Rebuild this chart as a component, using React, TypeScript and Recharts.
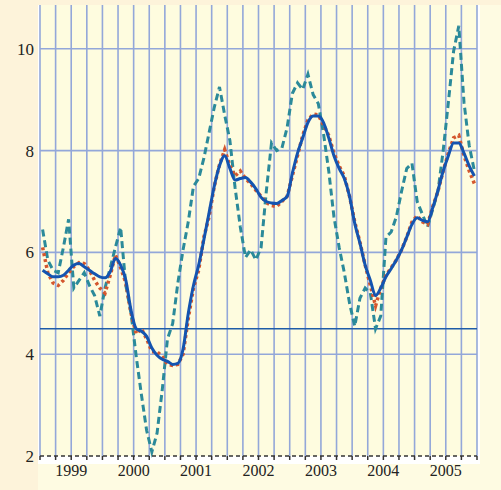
import { LineChart, Line, XAxis, YAxis, CartesianGrid, ReferenceLine } from 'recharts';

// monthly values, Jan 1999 .. Dec 2005
const trend = [
  5.65, 5.58, 5.52, 5.52, 5.55, 5.65, 5.75, 5.78, 5.72, 5.65, 5.58, 5.52,
  5.5, 5.62, 5.88, 5.75, 5.45, 4.86, 4.5, 4.45, 4.35, 4.12, 3.98, 3.9,
  3.86, 3.8, 3.82, 4.1, 4.8, 5.35, 5.75, 6.25, 6.78, 7.3, 7.7, 7.9,
  7.65, 7.42, 7.45, 7.47, 7.38, 7.25, 7.08, 7.0, 6.97, 6.96, 7.02, 7.1,
  7.55, 7.95, 8.25, 8.55, 8.68, 8.68, 8.55, 8.25, 7.9, 7.65, 7.45, 7.1,
  6.57, 6.18, 5.75, 5.45, 5.15, 5.3, 5.52, 5.68, 5.85, 6.05, 6.3, 6.55,
  6.68, 6.63, 6.6, 6.88, 7.22, 7.6, 7.9, 8.15, 8.15, 7.95, 7.7, 7.5,
];
const smoothed = [
  6.1, 5.6, 5.4, 5.35, 5.45, 5.6, 5.72, 5.8, 5.78, 5.65, 5.45, 5.3,
  5.2, 5.55, 5.95, 5.7, 5.4, 4.8, 4.4, 4.5, 4.3, 4.05, 4.05, 3.95,
  3.8, 3.78, 3.8, 4.0, 4.7, 5.3, 5.65, 6.3, 6.7, 7.3, 7.72, 8.02,
  7.7, 7.5, 7.6, 7.45, 7.35, 7.22, 7.1, 6.98, 6.92, 6.9, 7.0, 7.1,
  7.5, 7.9, 8.3, 8.6, 8.72, 8.7, 8.5, 8.3, 7.95, 7.7, 7.5, 7.1,
  6.6, 6.2, 5.75, 5.35, 4.95, 5.3, 5.55, 5.7, 5.85, 6.05, 6.3, 6.6,
  6.72, 6.6, 6.55, 6.9, 7.2, 7.6, 7.95, 8.25, 8.3, 7.9, 7.6, 7.35,
];
const actual = [
  6.45, 5.85, 5.65, 5.6, 6.1, 6.65, 5.3, 5.45, 5.6, 5.35, 5.15, 4.75,
  5.3, 5.7, 6.1, 6.49, 5.35, 4.8, 3.95, 3.2, 2.5, 2.08, 2.45, 3.3,
  4.3, 4.6, 5.4, 6.05, 6.6, 7.3, 7.45, 7.85, 8.35, 8.85, 9.25, 8.7,
  8.2, 7.27, 6.5, 5.9, 6.05, 5.85, 6.1, 7.2, 8.15, 8.0, 8.05, 8.45,
  9.12, 9.33, 9.2, 9.5, 9.1, 8.92, 8.33, 7.6, 6.7, 6.1, 5.6, 5.0,
  4.55, 5.1, 5.3, 5.2, 4.5, 4.75, 6.3, 6.4, 6.7, 7.2, 7.65, 7.75,
  7.0, 6.75, 6.5, 6.85, 7.2, 8.0, 8.95, 9.95, 10.45, 8.95, 8.1, 7.6,
];
const years = ['1999', '2000', '2001', '2002', '2003', '2004', '2005'];
const quarterTicks = Array.from({ length: 29 }, (_, i) => i * 3);
const yTicks = [2, 4, 6, 8, 10];
const threshold = 4.5;

const data = trend.map((v, i) => ({
  t: i + 0.5,
  trend: v,
  smoothed: smoothed[i],
  actual: actual[i],
}));

const yearLabel = (t: number) => (t % 12 === 6 ? years[(t - 6) / 12] ?? '' : '');

const FONT = '"Liberation Serif", "DejaVu Serif", serif';

export default function App() {
  return (
    <div style={{ position: 'relative', width: 501, height: 490, background: '#FDF3DA', overflow: 'hidden' }}>
      <style>{'body{margin:0}'}</style>
      <div style={{ position: 'absolute', left: 38, top: 5, right: 0, bottom: 0, background: '#FEFBE2' }} />
      <div style={{ position: 'absolute', left: 38, top: 5, width: 442, height: 459, background: '#FFFFFF' }} />
      <div style={{ position: 'absolute', left: 0, top: 0 }}>
        <LineChart width={501} height={490} data={data} margin={{ top: 5, right: 0, bottom: 0, left: 0 }}>
          <CartesianGrid
            yAxisId="l"
            fill="#FEFCDF"
            stroke="#93A7D9"
            strokeWidth={1.6}
            horizontalValues={[4, 6, 8, 10]}
          />
          <XAxis
            type="number"
            dataKey="t"
            domain={[0, 84]}
            ticks={quarterTicks}
            interval={0}
            tickFormatter={yearLabel}
            height={34}
            tickSize={4}
            tickMargin={5}
            axisLine={{ stroke: '#333', strokeWidth: 1.5, strokeDasharray: '4 3' }}
            tickLine={{ stroke: '#333', strokeWidth: 1.5 }}
            tick={{ fill: '#222', fontSize: 16, fontFamily: FONT }}
          />
          <YAxis
            yAxisId="l"
            domain={[2, 10.86]}
            ticks={yTicks}
            width={40}
            axisLine={false}
            tickLine={false}
            tickSize={0}
            tickMargin={6}
            tick={{ fill: '#222', fontSize: 17, fontFamily: FONT }}
          />
          <YAxis
            yAxisId="r"
            orientation="right"
            domain={[2, 10.86]}
            ticks={yTicks}
            width={24}
            axisLine={false}
            tickLine={false}
            tickSize={0}
            tickMargin={7}
            tick={{ fill: '#222', fontSize: 17, fontFamily: FONT, textAnchor: 'start' }}
          />
          <ReferenceLine yAxisId="l" y={threshold} stroke="#1F5CA8" strokeWidth={1.6} />
          <Line yAxisId="l" type="linear" dataKey="actual" stroke="#2B8A9A" strokeWidth={3} strokeDasharray="7 4" dot={false} isAnimationActive={false} />
          <Line yAxisId="l" type="linear" dataKey="smoothed" stroke="#D4572E" strokeWidth={3.5} strokeDasharray="3 3" dot={false} isAnimationActive={false} />
          <Line yAxisId="l" type="monotone" dataKey="trend" stroke="#1454B0" strokeWidth={3} dot={false} isAnimationActive={false} />
        </LineChart>
      </div>
    </div>
  );
}
